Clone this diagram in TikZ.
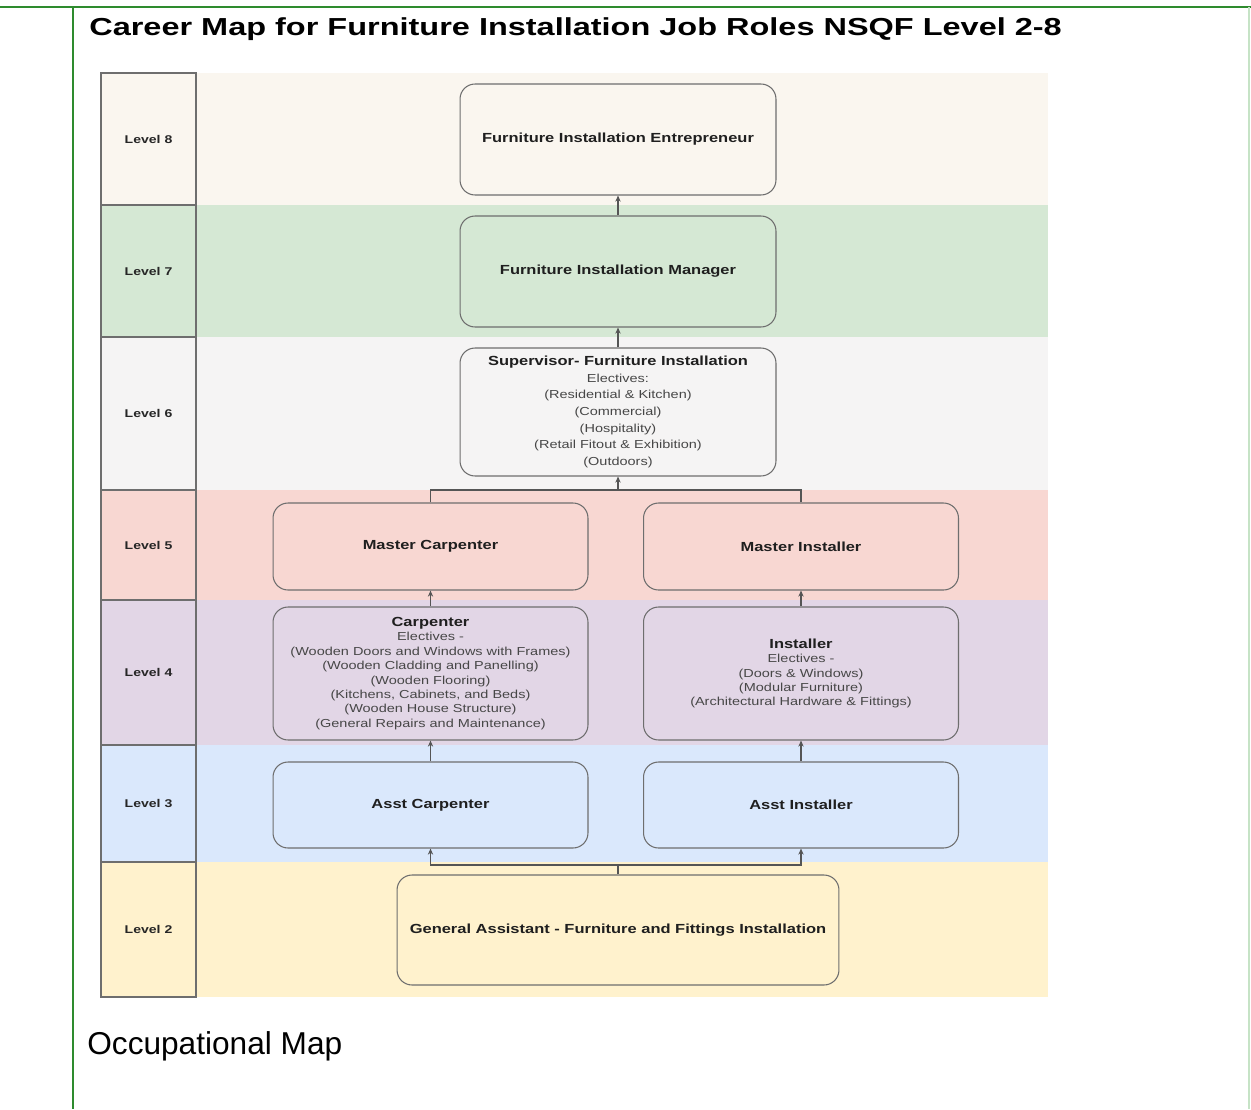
\documentclass[tikz,border=0pt]{standalone}
\usepackage{fontspec}
\setmainfont{Liberation Sans}
\newfontfamily\mapfont{Liberation Sans}[FakeStretch=1.25]
\newfontfamily\titlefont{Liberation Sans}[FakeStretch=1.32]
\usetikzlibrary{arrows.meta}

\definecolor{bandeight}{HTML}{FAF6EF}
\definecolor{bandseven}{HTML}{D5E8D4}
\definecolor{bandsix}{HTML}{F5F4F4}
\definecolor{bandfive}{HTML}{F8D7D2}
\definecolor{bandfour}{HTML}{E2D6E6}
\definecolor{bandthree}{HTML}{DAE8FC}
\definecolor{bandtwo}{HTML}{FFF2CD}
\definecolor{boxline}{HTML}{6E6E6E}
\definecolor{linkgray}{HTML}{555555}
\definecolor{framegreen}{HTML}{2E8B2E}
\definecolor{framelight}{HTML}{C6E3C6}

% heading line of a box with electives
\newcommand\rolehead[1]{{\fontsize{7.5}{9}\selectfont\bfseries\color{black!88}#1}}

\begin{document}
\begin{tikzpicture}[x=0.02cm,y=-0.02cm,
    job/.style={draw=boxline,line width=0.6pt,rounded corners=0.3cm,
      align=center,inner sep=2pt,text=black!88,
      font=\mapfont\fontsize{7.5}{9}\selectfont\bfseries},
    electjob/.style={job,text=black!72,
      font=\mapfont\fontsize{6.6}{#1}\selectfont},
    lvl/.style={draw=boxline,line width=0.6pt,minimum width=1.9cm,
      text=black!85,font=\mapfont\fontsize{6.4}{8}\selectfont\bfseries},
    link/.style={draw=linkgray,line width=0.6pt},
    up/.style={link,-{Stealth[length=3.5pt,width=3pt]}}]

      % page size
      \useasboundingbox (0,0) rectangle (1251,1109);

      % page frame
      \draw[framegreen,line width=1.1pt] (0,7) -- (1251,7);
      \draw[framegreen,line width=1pt] (73,7) -- (73,1109);
      \draw[framelight,line width=0.8pt] (1249,7) -- (1249,1109);

      \node[anchor=west,inner sep=0pt] (title) at (89,29){%
        \titlefont\fontsize{14}{16}\selectfont\bfseries
        Career Map for Furniture Installation Job Roles NSQF Level 2-8};

      % level bands
      \fill[bandeight] (101,73) rectangle (1048,205);
      \fill[bandseven] (101,205) rectangle (1048,337);
      \fill[bandsix] (101,337) rectangle (1048,490);
      \fill[bandfive] (101,490) rectangle (1048,600);
      \fill[bandfour] (101,600) rectangle (1048,745);
      \fill[bandthree] (101,745) rectangle (1048,862);
      \fill[bandtwo] (101,862) rectangle (1048,997);

      \node[lvl,minimum height=2.64cm] (lv8) at (148.5,139){Level 8};
      \node[lvl,minimum height=2.64cm] (lv7) at (148.5,271){Level 7};
      \node[lvl,minimum height=3.06cm] (lv6) at (148.5,413.5){Level 6};
      \node[lvl,minimum height=2.2cm] (lv5) at (148.5,545){Level 5};
      \node[lvl,minimum height=2.9cm] (lv4) at (148.5,672.5){Level 4};
      \node[lvl,minimum height=2.34cm] (lv3) at (148.5,803.5){Level 3};
      \node[lvl,minimum height=2.7cm] (lv2) at (148.5,929.5){Level 2};

      % job roles
      \node[job,fill=bandeight,minimum width=6.32cm,minimum height=2.22cm]
        (ent) at (618,139.5){Furniture Installation Entrepreneur};
      \node[job,fill=bandseven,minimum width=6.32cm,minimum height=2.22cm]
        (mgr) at (618,271.5){Furniture Installation Manager};
      \node[electjob=9.5pt,fill=bandsix,minimum width=6.32cm,minimum height=2.56cm]
        (sup) at (618,412){\rolehead{Supervisor- Furniture Installation}\\
        Electives:\\
        (Residential \& Kitchen)\\
        (Commercial)\\
        (Hospitality)\\
        (Retail Fitout \& Exhibition)\\
        (Outdoors)};
      \node[job,fill=bandfive,minimum width=6.3cm,minimum height=1.74cm]
        (mcarp) at (430.5,546.5){Master Carpenter};
      \node[job,fill=bandfive,minimum width=6.3cm,minimum height=1.74cm]
        (minst) at (801,546.5){Master Installer};
      \node[electjob=8.2pt,fill=bandfour,minimum width=6.3cm,minimum height=2.66cm]
        (carp) at (430.5,673.5){\rolehead{Carpenter}\\
        Electives -\\
        (Wooden Doors and Windows with Frames)\\
        (Wooden Cladding and Panelling)\\
        (Wooden Flooring)\\
        (Kitchens, Cabinets, and Beds)\\
        (Wooden House Structure)\\
        (General Repairs and Maintenance)};
      \node[electjob=8.2pt,fill=bandfour,minimum width=6.3cm,minimum height=2.66cm]
        (inst) at (801,673.5){\rolehead{Installer}\\
        Electives -\\
        (Doors \& Windows)\\
        (Modular Furniture)\\
        (Architectural Hardware \& Fittings)};
      \node[job,fill=bandthree,minimum width=6.3cm,minimum height=1.72cm]
        (acarp) at (430.5,805){Asst Carpenter};
      \node[job,fill=bandthree,minimum width=6.3cm,minimum height=1.72cm]
        (ainst) at (801,805){Asst Installer};
      \node[job,fill=bandtwo,minimum width=8.84cm,minimum height=2.2cm]
        (gen) at (618,930){General Assistant - Furniture and Fittings Installation};

      % progression arrows
      \draw[up] (mgr.north) -- (ent.south);
      \draw[up] (sup.north) -- (mgr.south);
      \coordinate (jsup) at (618,490);
      \draw[link] (mcarp.north) |- (jsup) -| (minst.north);
      \draw[up] (jsup) -- (sup.south);
      \draw[up] (carp.north) -- (mcarp.south);
      \draw[up] (inst.north) -- (minst.south);
      \draw[up] (acarp.north) -- (carp.south);
      \draw[up] (ainst.north) -- (inst.south);
      \coordinate (jgen) at (618,865);
      \draw[link] (gen.north) -- (jgen);
      \draw[up] (jgen) -| (acarp.south);
      \draw[up] (jgen) -| (ainst.south);

      \node[anchor=west,inner sep=0pt] (occ) at (87,1046){%
        \fontsize{18}{21}\selectfont Occupational Map};

      % grid for checking positions
      %\draw[step=50,lightgray] (0,0) grid (1251,1109);
    \end{tikzpicture}
\end{document}
